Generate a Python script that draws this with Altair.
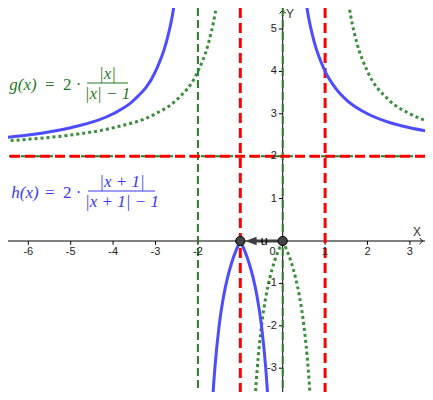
import altair as alt
import pandas as pd

# ---------------- data ----------------
# h(x) = 2|x+1|/(|x+1|-1)  (blue, solid) - read-off points per branch
h_left_x  = [-6.7, -6.0, -5.0, -4.0, -3.5, -3.0, -2.75, -2.6, -2.55, -2.5]
h_left_y  = [2.43, 2.50, 2.67, 3.00, 3.33, 4.00, 4.67, 5.33, 5.64, 6.00]
h_midl_x  = [-1.7, -1.65, -1.6, -1.5, -1.4, -1.3, -1.2, -1.1, -1.0]
h_midl_y  = [-4.67, -3.71, -3.0, -2.0, -1.33, -0.857, -0.5, -0.222, 0.0]
h_midr_x  = [-1.0, -0.9, -0.8, -0.7, -0.6, -0.5, -0.4, -0.35, -0.3]
h_midr_y  = [0.0, -0.222, -0.5, -0.857, -1.33, -2.0, -3.0, -3.71, -4.67]
h_right_x = [0.45, 0.5, 0.6, 0.75, 1.0, 1.25, 1.5, 2.0, 2.5, 3.0, 3.6]
h_right_y = [6.44, 6.0, 5.33, 4.67, 4.0, 3.6, 3.33, 3.0, 2.8, 2.67, 2.56]

# g(x) = 2|x|/(|x|-1)  (green, dotted)
g_left_x  = [-6.7, -6.0, -5.0, -4.0, -3.0, -2.5, -2.0, -1.75, -1.6, -1.55, -1.5, -1.45]
g_left_y  = [2.35, 2.40, 2.50, 2.67, 3.00, 3.33, 4.00, 4.67, 5.33, 5.64, 6.00, 6.44]
g_midl_x  = [-0.7, -0.65, -0.6, -0.5, -0.4, -0.3, -0.2, -0.1, 0.0]
g_midl_y  = [-4.67, -3.71, -3.0, -2.0, -1.33, -0.857, -0.5, -0.222, 0.0]
g_midr_x  = [0.0, 0.1, 0.2, 0.3, 0.4, 0.5, 0.6, 0.65, 0.7]
g_midr_y  = [0.0, -0.222, -0.5, -0.857, -1.33, -2.0, -3.0, -3.71, -4.67]
g_right_x = [1.45, 1.5, 1.6, 1.75, 2.0, 2.5, 3.0, 3.6]
g_right_y = [6.44, 6.0, 5.33, 4.67, 4.0, 3.33, 3.0, 2.77]

# asymptotes
red_vert = [-1, 1]
green_vert = [-2, 0]
horiz_asym = [2]

# points and vector u
pts_x = [0, -1]
pts_y = [0, 0]

# axis tick labels
x_tick_vals = [-6, -5, -4, -3, -2, -1, 1, 2, 3]
x_label_vals = [-6, -5, -4, -3, -2, 1, 2, 3]
x_label_txt = ["-6", "-5", "-4", "-3", "-2", "1", "2", "3"]
y_tick_vals = [-3, -2, -1, 1, 2, 3, 4, 5]
y_label_txt = ["-3", "-2", "-1", "1", "2", "3", "4", "5"]

# ---------------- scales ----------------
XDOM = [-6.479, 3.356]
YDOM = [-3.561, 5.495]
xs = alt.Scale(domain=XDOM, nice=False, zero=False)
ys = alt.Scale(domain=YDOM, nice=False, zero=False)


def X(f="x"):
    return alt.X(f, type="quantitative", scale=xs, axis=None)


def Y(f="y"):
    return alt.Y(f, type="quantitative", scale=ys, axis=None)


def branches(parts):
    rows = []
    for name, xx, yy in parts:
        rows += [{"x": a, "y": b, "br": name} for a, b in zip(xx, yy)]
    return pd.DataFrame(rows)


h_df = branches([("l", h_left_x, h_left_y), ("ml", h_midl_x, h_midl_y),
                 ("mr", h_midr_x, h_midr_y), ("r", h_right_x, h_right_y)])
g_df = branches([("l", g_left_x, g_left_y), ("ml", g_midl_x, g_midl_y),
                 ("mr", g_midr_x, g_midr_y), ("r", g_right_x, g_right_y)])

RED = "#ff0000"
GDASH = "#2a7a2a"
GDOT = "#3a8f3a"
BLUE = "#4d4dff"

# axes lines
x_axis = alt.Chart(pd.DataFrame({"y": [0]})).mark_rule(color="#000000", strokeWidth=1).encode(y=Y())
y_axis = alt.Chart(pd.DataFrame({"x": [0]})).mark_rule(color="#000000", strokeWidth=1).encode(x=X())

xt = pd.DataFrame({"x": x_tick_vals, "y": [0] * len(x_tick_vals), "y2": [-0.09] * len(x_tick_vals)})
x_ticks = alt.Chart(xt).mark_rule(color="#000000", strokeWidth=1).encode(x=X(), y=Y(), y2="y2")
yt = pd.DataFrame({"y": y_tick_vals, "x": [0] * len(y_tick_vals), "x2": [-0.09] * len(y_tick_vals)})
y_ticks = alt.Chart(yt).mark_rule(color="#000000", strokeWidth=1).encode(y=Y(), x=X(), x2="x2")

xl = pd.DataFrame({"x": x_label_vals, "y": [-0.27] * len(x_label_vals), "t": x_label_txt})
x_labels = alt.Chart(xl).mark_text(font="Liberation Sans", fontSize=11, color="#222222",
                                   baseline="middle", align="center").encode(
    x=X(), y=Y(), text="t:N")
yl = pd.DataFrame({"y": y_tick_vals, "x": [-0.14] * len(y_tick_vals), "t": y_label_txt})
y_labels = alt.Chart(yl).mark_text(font="Liberation Sans", fontSize=11, color="#222222",
                                   baseline="middle", align="right").encode(
    y=Y(), x=X(), text="t:N")
zero_label = alt.Chart(pd.DataFrame({"x": [-0.24], "y": [-0.27], "t": ["0"]})).mark_text(
    font="Liberation Sans", fontSize=11, color="#222222", align="center", baseline="middle").encode(
    x=X(), y=Y(), text="t:N")

axis_names = alt.Chart(pd.DataFrame({"x": [3.17, 0.17], "y": [0.21, 5.36], "t": ["X", "Y"]})).mark_text(
    font="Liberation Sans", fontSize=12, color="#333333", align="center", baseline="middle").encode(
    x=X(), y=Y(), text="t:N")

x_arrow = alt.Chart(pd.DataFrame({"x": [3.30], "y": [0]})).mark_point(
    shape="M-1,-1L0,0L-1,1", size=40, filled=False, color="#000000", strokeWidth=1, opacity=1).encode(x=X(), y=Y())
y_arrow = alt.Chart(pd.DataFrame({"x": [0], "y": [5.44]})).mark_point(
    shape="M-1,1L0,0L1,1", size=40, filled=False, color="#000000", strokeWidth=1, opacity=1).encode(x=X(), y=Y())

# asymptotes
gv = alt.Chart(pd.DataFrame({"x": green_vert})).mark_rule(
    color=GDASH, strokeWidth=2, strokeDash=[8, 4]).encode(x=X())
gh = alt.Chart(pd.DataFrame({"y": horiz_asym})).mark_rule(
    color=GDASH, strokeWidth=2, strokeDash=[8, 4]).encode(y=Y())
rv = alt.Chart(pd.DataFrame({"x": red_vert})).mark_rule(
    color=RED, strokeWidth=3, strokeDash=[10, 5]).encode(x=X())
rh = alt.Chart(pd.DataFrame({"y": horiz_asym})).mark_rule(
    color=RED, strokeWidth=3, strokeDash=[10, 5]).encode(y=Y())

# curves
h_line = alt.Chart(h_df).mark_line(color=BLUE, strokeWidth=3, clip=True, interpolate="monotone").encode(
    x=X(), y=Y(), detail="br:N")
g_line = alt.Chart(g_df).mark_line(color=GDOT, strokeWidth=3, strokeDash=[3, 3], clip=True,
                                   interpolate="monotone").encode(x=X(), y=Y(), detail="br:N")

# vector u
u_shaft = alt.Chart(pd.DataFrame({"x": [0], "x2": [-0.72], "y": [0]})).mark_rule(
    color="#404040", strokeWidth=3).encode(x=X(), x2="x2", y=Y())
u_head = alt.Chart(pd.DataFrame({"x": [-0.75], "y": [0]})).mark_point(
    shape="M-1,0L1,-0.75L1,0.75Z", size=130, filled=True, color="#404040", opacity=1).encode(x=X(), y=Y())
u_label = alt.Chart(pd.DataFrame({"x": [-0.44], "y": [0.0], "t": ["u"]})).mark_text(
    font="Liberation Sans", fontSize=13, color="#000000", align="center", baseline="middle").encode(
    x=X(), y=Y(), text="t:N")

points = alt.Chart(pd.DataFrame({"x": pts_x, "y": pts_y})).mark_point(
    shape="circle", size=85, filled=True, fill="#444444", stroke="#000000", strokeWidth=1, opacity=1).encode(
    x=X(), y=Y())

# formula labels
ital = pd.DataFrame({"x": [-6.45, -6.40], "y": [3.679, 1.132], "t": ["g(x)", "h(x)"],
                     "c": ["g", "h"]})
plain = pd.DataFrame({"x": [-5.606, -5.184, -5.606, -5.184], "y": [3.679, 3.679, 1.132, 1.132],
                      "t": ["=", "2 ·", "=", "2 ·"], "c": ["g", "g", "h", "h"]})
frac = pd.DataFrame({"x": [-4.132, -4.132, -3.790, -3.790], "y": [3.95, 3.46, 1.39, 0.93],
                     "t": ["|x|", "|x| − 1", "|x + 1|", "|x + 1| − 1"], "c": ["g", "g", "h", "h"]})
bars = pd.DataFrame({"x": [-4.615, -4.592], "x2": [-3.648, -3.012], "y": [3.726, 1.179], "c": ["g", "h"]})
cscale = alt.Scale(domain=["g", "h"], range=["#1f7a1f", "#3838ff"])

t_ital = alt.Chart(ital).mark_text(font="Liberation Serif", fontSize=17, fontStyle="italic",
                                   align="left", baseline="middle").encode(
    x=X(), y=Y(), text="t:N", color=alt.Color("c:N", scale=cscale, legend=None))
t_plain = alt.Chart(plain).mark_text(font="Liberation Serif", fontSize=17,
                                     align="left", baseline="middle").encode(
    x=X(), y=Y(), text="t:N", color=alt.Color("c:N", scale=cscale, legend=None))
t_frac = alt.Chart(frac).mark_text(font="Liberation Serif", fontSize=17, fontStyle="italic",
                                   align="center", baseline="middle").encode(
    x=X(), y=Y(), text="t:N", color=alt.Color("c:N", scale=cscale, legend=None))
t_bars = alt.Chart(bars).mark_rule(strokeWidth=1).encode(
    x=X(), x2="x2", y=Y(), color=alt.Color("c:N", scale=cscale, legend=None))

chart = alt.layer(
    x_axis, y_axis, x_ticks, y_ticks, x_arrow, y_arrow,
    gv, gh, rv, rh,
    g_line, h_line,
    u_shaft, u_head, points, u_label,
    x_labels, y_labels, zero_label, axis_names,
    t_ital, t_plain, t_frac, t_bars,
).properties(width=417, height=384, padding=0, autosize="none",
             background="#ffffff").configure_view(stroke=None)

chart.save("out.html", embed_options={"renderer": "svg", "actions": False})
